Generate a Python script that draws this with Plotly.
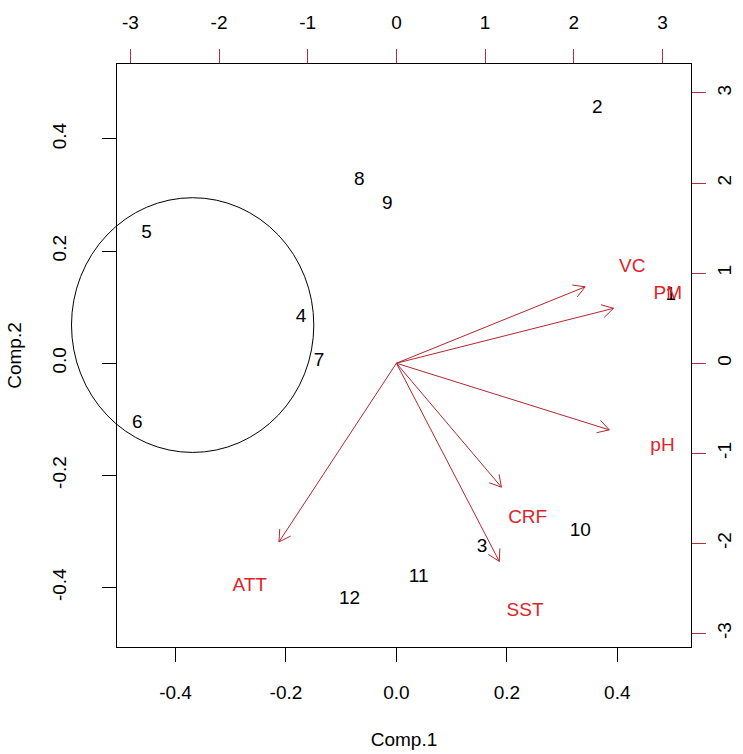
import numpy as np
import plotly.graph_objects as go

# Observation scores on the first two principal components
obs_labels = ["1", "2", "3", "4", "5", "6", "7", "8", "9", "10", "11", "12"]
comp1 = [0.497, 0.364, 0.155, -0.1725, -0.4525, -0.4693, -0.1399, -0.067, -0.0163, 0.333, 0.0404, -0.085]
comp2 = [0.121, 0.455, -0.3286, 0.0821, 0.231, -0.1064, 0.003, 0.326, 0.283, -0.300, -0.382, -0.4207]

# Variable loadings (secondary scale, top/right axes)
var_labels = ["VC", "PM", "pH", "CRF", "SST", "ATT"]
load1 = [2.66, 3.06, 3.00, 1.48, 1.45, -1.655]
load2 = [1.06, 0.762, -0.925, -1.72, -2.75, -2.48]

# Tick values
prim_ticks = [-0.4, -0.2, 0.0, 0.2, 0.4]
sec_ticks = [-3, -2, -1, 0, 1, 2, 3]

# Highlighted group (centre and radii in score units)
circle_cx, circle_cy = -0.369, 0.068
circle_rx, circle_ry = 0.2194, 0.2271

# Plot geometry / scaling
lim = [-0.506, 0.5335]
sec_ratio = 6.226
arrow_frac = 0.8
W, H = 743, 754
ml, mr, mt, mb = 117, 52, 64, 107
pw, ph = W - ml - mr, H - mt - mb

font_fam = "Liberation Sans, Arial, sans-serif"
fs = 19
red_txt = "#DE2429"
red_line = "#B3262E"
red_tick = "#B0303E"

sec_lim = [lim[0] * sec_ratio, lim[1] * sec_ratio]
sx = pw / (sec_lim[1] - sec_lim[0])
sy = ph / (sec_lim[1] - sec_lim[0])

# Arrows: shafts plus open heads built in pixel space
head_len = 13.0
head_ang = np.deg2rad(30)
ax_x, ax_y = [], []
for a, b in zip(load1, load2):
    tx, ty = a * arrow_frac, b * arrow_frac
    vx, vy = tx * sx, ty * sy
    n = np.hypot(vx, vy)
    ux, uy = -vx / n, -vy / n
    heads = []
    for s in (1, -1):
        c, si = np.cos(s * head_ang), np.sin(s * head_ang)
        wx, wy = c * ux - si * uy, si * ux + c * uy
        heads.append((tx + head_len * wx / sx, ty + head_len * wy / sy))
    ax_x += [0, tx, None, heads[0][0], tx, heads[1][0], None]
    ax_y += [0, ty, None, heads[0][1], ty, heads[1][1], None]

fig = go.Figure()
fig.add_trace(go.Scatter(
    x=comp1, y=comp2, mode="text", text=obs_labels,
    textposition="middle center", cliponaxis=False,
    textfont=dict(family=font_fam, size=fs, color="black"),
    xaxis="x", yaxis="y", hoverinfo="skip", showlegend=False))
fig.add_trace(go.Scatter(
    x=ax_x, y=ax_y, mode="lines", line=dict(color=red_line, width=1),
    xaxis="x2", yaxis="y2", hoverinfo="skip", showlegend=False))
fig.add_trace(go.Scatter(
    x=load1, y=load2, mode="text", text=var_labels,
    textposition="middle center", cliponaxis=False,
    textfont=dict(family=font_fam, size=fs, color=red_txt),
    xaxis="x2", yaxis="y2", hoverinfo="skip", showlegend=False))

# Circle drawn in paper coordinates so it is not clipped by the frame
def to_paper(v):
    return (v - lim[0]) / (lim[1] - lim[0])

fig.add_shape(type="circle", xref="paper", yref="paper",
              x0=to_paper(circle_cx - circle_rx), x1=to_paper(circle_cx + circle_rx),
              y0=to_paper(circle_cy - circle_ry), y1=to_paper(circle_cy + circle_ry),
              line=dict(color="black", width=1))

def fmt(v):
    return f"{v:.1f}"

common = dict(showgrid=False, zeroline=False, showline=True, linecolor="black",
              linewidth=1, ticks="outside", ticklen=14, tickwidth=1,
              tickfont=dict(family=font_fam, size=fs, color="black"),
              automargin=False, fixedrange=True)

fig.update_layout(
    width=W, height=H, margin=dict(l=ml, r=mr, t=mt, b=mb),
    paper_bgcolor="white", plot_bgcolor="white",
    xaxis=dict(range=lim, tickvals=prim_ticks, ticktext=[fmt(v) for v in prim_ticks],
               tickcolor="black", ticklabelstandoff=14,
               title=dict(text="Comp.1", font=dict(family=font_fam, size=fs, color="black"),
                          standoff=30), **common),
    yaxis=dict(range=lim, tickvals=prim_ticks, ticktext=[fmt(v) for v in prim_ticks],
               tickcolor="black", tickangle=-90, ticklabelstandoff=28,
               title=dict(text="Comp.2", font=dict(family=font_fam, size=fs, color="black"),
                          standoff=22), **common),
    xaxis2=dict(range=sec_lim, overlaying="x", side="top", anchor="y",
                tickvals=sec_ticks, ticktext=[str(v) for v in sec_ticks],
                tickcolor=red_tick, ticklabelstandoff=12, **common),
    yaxis2=dict(range=sec_lim, overlaying="y", side="right", anchor="x",
                tickvals=sec_ticks, ticktext=[str(v) for v in sec_ticks],
                tickcolor=red_tick, tickangle=-90, ticklabelstandoff=2, **common),
)

fig.write_html("out.html")
